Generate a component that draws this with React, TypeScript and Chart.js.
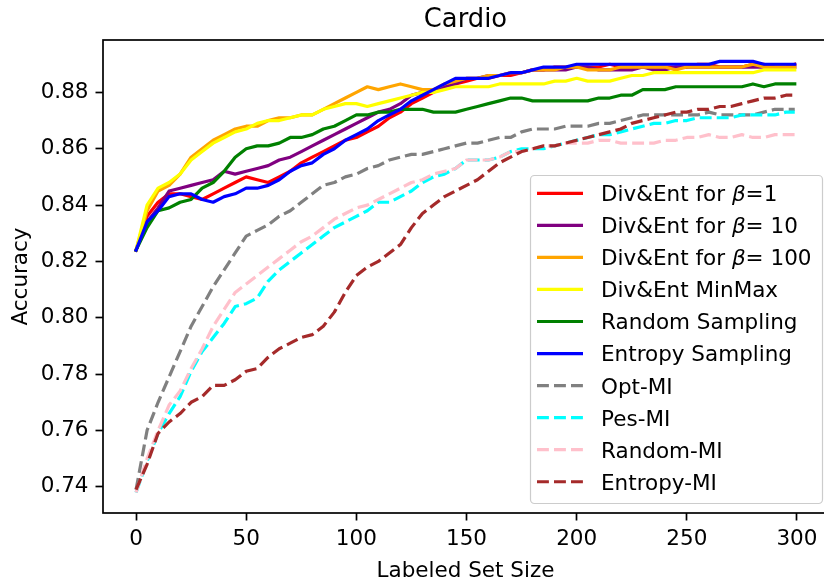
import React, { useEffect, useRef } from "react";
import { Chart, registerables } from "chart.js";

Chart.register(...registerables);

const TITLE = "Cardio";
const X_LABEL = "Labeled Set Size";
const Y_LABEL = "Accuracy";

const X_VALUES = [
  0, 5, 10, 15, 20, 25, 30, 35, 40, 45,
  50, 55, 60, 65, 70, 75, 80, 85, 90, 95,
  100, 105, 110, 115, 120, 125, 130, 135, 140, 145,
  150, 155, 160, 165, 170, 175, 180, 185, 190, 195,
  200, 205, 210, 215, 220, 225, 230, 235, 240, 245,
  250, 255, 260, 265, 270, 275, 280, 285, 290, 295,
  299,
];

const DIV_ENT_B1 = [
  0.824, 0.836, 0.841, 0.844, 0.844, 0.843, 0.842, 0.844, 0.846, 0.848,
  0.850, 0.849, 0.848, 0.850, 0.852, 0.855, 0.857, 0.859, 0.861, 0.863,
  0.864, 0.866, 0.868, 0.871, 0.873, 0.876, 0.878, 0.880, 0.882, 0.883,
  0.884, 0.885, 0.885, 0.886, 0.886, 0.887, 0.888, 0.888, 0.889, 0.889,
  0.889, 0.889, 0.889, 0.890, 0.889, 0.889, 0.889, 0.889, 0.889, 0.889,
  0.889, 0.890, 0.890, 0.889, 0.889, 0.889, 0.890, 0.890, 0.889, 0.889,
  0.890,
];

const DIV_ENT_B10 = [
  0.824, 0.834, 0.839, 0.845, 0.846, 0.847, 0.848, 0.849, 0.852, 0.851,
  0.852, 0.853, 0.854, 0.856, 0.857, 0.859, 0.861, 0.863, 0.865, 0.867,
  0.869, 0.871, 0.873, 0.874, 0.876, 0.879, 0.880, 0.881, 0.882, 0.883,
  0.885, 0.885, 0.886, 0.886, 0.887, 0.887, 0.888, 0.888, 0.888, 0.888,
  0.889, 0.889, 0.888, 0.888, 0.888, 0.888, 0.889, 0.888, 0.888, 0.889,
  0.889, 0.889, 0.889, 0.889, 0.889, 0.889, 0.889, 0.889, 0.889, 0.889,
  0.889,
];

const DIV_ENT_B100 = [
  0.824, 0.838, 0.845, 0.847, 0.851, 0.857, 0.860, 0.863, 0.865, 0.867,
  0.868, 0.868, 0.870, 0.871, 0.871, 0.872, 0.872, 0.874, 0.876, 0.878,
  0.880, 0.882, 0.881, 0.882, 0.883, 0.882, 0.881, 0.881, 0.883, 0.884,
  0.885, 0.885, 0.886, 0.886, 0.887, 0.887, 0.888, 0.888, 0.888, 0.889,
  0.889, 0.888, 0.888, 0.888, 0.889, 0.889, 0.889, 0.889, 0.889, 0.888,
  0.889, 0.889, 0.889, 0.889, 0.889, 0.889, 0.890, 0.889, 0.889, 0.889,
  0.889,
];

const DIV_ENT_MINMAX = [
  0.824, 0.840, 0.846, 0.848, 0.851, 0.856, 0.859, 0.862, 0.864, 0.866,
  0.867, 0.869, 0.870, 0.870, 0.871, 0.872, 0.872, 0.874, 0.875, 0.876,
  0.876, 0.875, 0.876, 0.877, 0.878, 0.879, 0.880, 0.880, 0.881, 0.882,
  0.882, 0.882, 0.882, 0.883, 0.883, 0.883, 0.883, 0.883, 0.884, 0.884,
  0.885, 0.884, 0.884, 0.884, 0.885, 0.886, 0.886, 0.887, 0.887, 0.887,
  0.887, 0.887, 0.887, 0.887, 0.887, 0.887, 0.887, 0.888, 0.888, 0.888,
  0.888,
];

const RANDOM_SAMPLING = [
  0.824, 0.832, 0.838, 0.839, 0.841, 0.842, 0.846, 0.848, 0.852, 0.857,
  0.860, 0.861, 0.861, 0.862, 0.864, 0.864, 0.865, 0.867, 0.868, 0.870,
  0.872, 0.872, 0.873, 0.873, 0.874, 0.874, 0.874, 0.873, 0.873, 0.873,
  0.874, 0.875, 0.876, 0.877, 0.878, 0.878, 0.877, 0.877, 0.877, 0.877,
  0.877, 0.877, 0.878, 0.878, 0.879, 0.879, 0.881, 0.881, 0.881, 0.882,
  0.882, 0.882, 0.882, 0.882, 0.882, 0.882, 0.883, 0.882, 0.883, 0.883,
  0.883,
];

const ENTROPY_SAMPLING = [
  0.824, 0.834, 0.838, 0.843, 0.844, 0.844, 0.842, 0.841, 0.843, 0.844,
  0.846, 0.846, 0.847, 0.849, 0.852, 0.854, 0.855, 0.858, 0.860, 0.863,
  0.865, 0.867, 0.870, 0.872, 0.874, 0.877, 0.879, 0.881, 0.883, 0.885,
  0.885, 0.885, 0.885, 0.886, 0.887, 0.887, 0.888, 0.889, 0.889, 0.889,
  0.890, 0.890, 0.890, 0.890, 0.890, 0.890, 0.890, 0.890, 0.890, 0.890,
  0.890, 0.890, 0.890, 0.891, 0.891, 0.891, 0.891, 0.890, 0.890, 0.890,
  0.890,
];

const OPT_MI = [
  0.739, 0.760, 0.770, 0.779, 0.788, 0.797, 0.804, 0.811, 0.817, 0.823,
  0.829, 0.831, 0.833, 0.836, 0.838, 0.841, 0.844, 0.847, 0.848, 0.850,
  0.851, 0.853, 0.854, 0.856, 0.857, 0.858, 0.858, 0.859, 0.860, 0.861,
  0.862, 0.862, 0.863, 0.864, 0.864, 0.866, 0.867, 0.867, 0.867, 0.868,
  0.868, 0.868, 0.869, 0.869, 0.870, 0.871, 0.872, 0.872, 0.872, 0.872,
  0.872, 0.872, 0.873, 0.872, 0.872, 0.872, 0.872, 0.873, 0.874, 0.874,
  0.874,
];

const PES_MI = [
  0.738, 0.749, 0.759, 0.766, 0.772, 0.781, 0.788, 0.793, 0.798, 0.804,
  0.805, 0.807, 0.813, 0.817, 0.820, 0.823, 0.826, 0.829, 0.832, 0.834,
  0.836, 0.838, 0.841, 0.841, 0.843, 0.845, 0.848, 0.850, 0.851, 0.853,
  0.856, 0.856, 0.856, 0.857, 0.859, 0.860, 0.860, 0.860, 0.861, 0.862,
  0.863, 0.864, 0.865, 0.865, 0.866, 0.867, 0.868, 0.869, 0.869, 0.870,
  0.870, 0.871, 0.871, 0.871, 0.871, 0.872, 0.872, 0.872, 0.872, 0.873,
  0.873,
];

const RANDOM_MI = [
  0.738, 0.750, 0.760, 0.769, 0.774, 0.782, 0.789, 0.797, 0.803, 0.809,
  0.812, 0.815, 0.818, 0.821, 0.824, 0.827, 0.829, 0.832, 0.835, 0.837,
  0.839, 0.840, 0.842, 0.844, 0.846, 0.848, 0.849, 0.851, 0.852, 0.853,
  0.856, 0.856, 0.856, 0.857, 0.859, 0.859, 0.860, 0.861, 0.861, 0.862,
  0.862, 0.862, 0.863, 0.863, 0.862, 0.862, 0.862, 0.862, 0.863, 0.863,
  0.864, 0.864, 0.865, 0.864, 0.864, 0.865, 0.864, 0.864, 0.865, 0.865,
  0.865,
];

const ENTROPY_MI = [
  0.739, 0.748, 0.759, 0.763, 0.766, 0.770, 0.772, 0.776, 0.776, 0.778,
  0.781, 0.782, 0.786, 0.789, 0.791, 0.793, 0.794, 0.797, 0.802, 0.809,
  0.815, 0.818, 0.820, 0.823, 0.826, 0.832, 0.837, 0.840, 0.843, 0.845,
  0.847, 0.849, 0.852, 0.855, 0.857, 0.859, 0.860, 0.861, 0.861, 0.862,
  0.863, 0.864, 0.865, 0.866, 0.867, 0.869, 0.870, 0.871, 0.872, 0.873,
  0.873, 0.874, 0.874, 0.875, 0.875, 0.876, 0.877, 0.878, 0.878, 0.879,
  0.879,
];

const SERIES_LABELS = [
  "Div&Ent for β=1",
  "Div&Ent for β= 10",
  "Div&Ent for β= 100",
  "Div&Ent MinMax",
  "Random Sampling",
  "Entropy Sampling",
  "Opt-MI",
  "Pes-MI",
  "Random-MI",
  "Entropy-MI",
];
const SERIES_VALUES = [
  DIV_ENT_B1, DIV_ENT_B10, DIV_ENT_B100, DIV_ENT_MINMAX, RANDOM_SAMPLING,
  ENTROPY_SAMPLING, OPT_MI, PES_MI, RANDOM_MI, ENTROPY_MI,
];
const SERIES_COLORS = [
  "#ff0000", "#800080", "#ffa500", "#ffff00", "#008000",
  "#0000ff", "#808080", "#00ffff", "#ffc0cb", "#a52a2a",
];
const SERIES_DASHED = [false, false, false, false, false, false, true, true, true, true];

const X_TICKS = [0, 50, 100, 150, 200, 250, 300];
const Y_TICKS = [0.74, 0.76, 0.78, 0.8, 0.82, 0.84, 0.86, 0.88];

const FONT = "'DejaVu Sans', sans-serif";
const CANVAS_W = 842;
const CANVAS_H = 582;
const LINE_W = 3.2;
const DASH = [11.9, 5.1];

function drawLabel(ctx: CanvasRenderingContext2D, label: string, x: number, y: number, size: number) {
  const idx = label.indexOf("β");
  ctx.textAlign = "left";
  ctx.textBaseline = "alphabetic";
  if (idx < 0) {
    ctx.font = `${size}px ${FONT}`;
    ctx.fillText(label, x, y);
    return;
  }
  const before = label.slice(0, idx);
  const after = label.slice(idx + 1);
  ctx.font = `${size}px ${FONT}`;
  ctx.fillText(before, x, y);
  let cx = x + ctx.measureText(before).width;
  ctx.font = `italic ${size}px ${FONT}`;
  ctx.fillText("β", cx, y);
  cx += ctx.measureText("β").width;
  ctx.font = `${size}px ${FONT}`;
  ctx.fillText(after, cx, y);
}

const overlayPlugin = {
  id: "overlay",
  afterDatasetsDraw(chart: any) {
    const ctx: CanvasRenderingContext2D = chart.ctx;
    const a = chart.chartArea;
    ctx.save();
    // spines
    ctx.strokeStyle = "#000";
    ctx.lineWidth = 1.7;
    ctx.strokeRect(a.left, a.top, a.right - a.left, a.bottom - a.top);

    ctx.fillStyle = "#000";
    // title
    ctx.font = `25.8px ${FONT}`;
    ctx.textAlign = "center";
    ctx.textBaseline = "alphabetic";
    const cxm = (a.left + 828) / 2;
    ctx.fillText(TITLE, cxm, a.top - 13);
    // x label
    ctx.font = `21.5px ${FONT}`;
    ctx.fillText(X_LABEL, cxm, a.bottom + 63.5);
    // y label
    ctx.save();
    ctx.translate(a.left - 76, (a.top + a.bottom) / 2);
    ctx.rotate(-Math.PI / 2);
    ctx.fillText(Y_LABEL, 0, 0);
    ctx.restore();

    // legend
    const lx0 = 530, ly0 = 175, lx1 = 822, ly1 = 503;
    ctx.beginPath();
    if ((ctx as any).roundRect) {
      (ctx as any).roundRect(lx0 + 0.5, ly0 + 0.5, lx1 - lx0, ly1 - ly0, 4);
    } else {
      ctx.rect(lx0 + 0.5, ly0 + 0.5, lx1 - lx0, ly1 - ly0);
    }
    ctx.fillStyle = "rgba(255,255,255,0.8)";
    ctx.fill();
    ctx.strokeStyle = "#cccccc";
    ctx.lineWidth = 1.2;
    ctx.stroke();

    for (let i = 0; i < SERIES_LABELS.length; i++) {
      const y = 193.3 + i * 32.05;
      ctx.beginPath();
      ctx.strokeStyle = SERIES_COLORS[i];
      ctx.lineWidth = LINE_W;
      ctx.lineCap = "butt";
      ctx.setLineDash(SERIES_DASHED[i] ? DASH : []);
      ctx.moveTo(537, y);
      ctx.lineTo(583, y);
      ctx.stroke();
      ctx.setLineDash([]);
      ctx.fillStyle = "#000";
      drawLabel(ctx, SERIES_LABELS[i], 601, y + 7.9, 21.5);
    }
    ctx.restore();
  },
};

export default function App() {
  const canvasRef = useRef<HTMLCanvasElement | null>(null);

  useEffect(() => {
    const canvas = canvasRef.current;
    if (!canvas) return;
    Chart.defaults.font.family = FONT;
    Chart.defaults.color = "#000";

    const datasets = SERIES_LABELS.map((label, i) => ({
      label,
      data: X_VALUES.map((x, j) => ({ x, y: SERIES_VALUES[i][j] })),
      borderColor: SERIES_COLORS[i],
      backgroundColor: SERIES_COLORS[i],
      borderWidth: LINE_W,
      borderDash: SERIES_DASHED[i] ? DASH : [],
      borderCapStyle: SERIES_DASHED[i] ? "butt" : "square",
      borderJoinStyle: "round",
      pointRadius: 0,
      pointHoverRadius: 0,
      tension: 0,
      fill: false,
      order: -i,
    }));

    const chart = new Chart(canvas, {
      type: "line",
      data: { datasets } as any,
      options: {
        responsive: false,
        animation: false,
        devicePixelRatio: 1,
        events: [],
        layout: { padding: { left: 0, top: 40, right: CANVAS_W - 830, bottom: 0 } },
        plugins: {
          legend: { display: false },
          title: { display: false },
          tooltip: { enabled: false },
        },
        scales: {
          x: {
            type: "linear",
            min: -15,
            max: 315,
            afterFit: (s: any) => { s.height = 69; },
            afterBuildTicks: (s: any) => { s.ticks = X_TICKS.map((v) => ({ value: v })); },
            border: { display: false },
            grid: {
              display: true,
              drawOnChartArea: false,
              drawTicks: true,
              tickLength: 7.5,
              tickWidth: 1.7,
              tickColor: "#000",
            },
            ticks: {
              autoSkip: false,
              maxRotation: 0,
              padding: 6.5,
              color: "#000",
              font: { size: 21.5, family: FONT },
              callback: (v: any) => String(Math.round(Number(v))),
            },
          },
          y: {
            type: "linear",
            min: 0.7307,
            max: 0.8986,
            afterFit: (s: any) => { s.width = 103; },
            afterBuildTicks: (s: any) => { s.ticks = Y_TICKS.map((v) => ({ value: v })); },
            border: { display: false },
            grid: {
              display: true,
              drawOnChartArea: false,
              drawTicks: true,
              tickLength: 7.5,
              tickWidth: 1.7,
              tickColor: "#000",
            },
            ticks: {
              autoSkip: false,
              padding: 7,
              color: "#000",
              font: { size: 21.5, family: FONT },
              callback: (v: any) => Number(v).toFixed(2),
            },
          },
        },
      } as any,
      plugins: [overlayPlugin],
    });
    return () => chart.destroy();
  }, []);

  return (
    <div style={{ position: "fixed", left: 0, top: 0, width: 824, height: 582, overflow: "hidden", background: "#fff" }}>
      <canvas ref={canvasRef} width={CANVAS_W} height={CANVAS_H} style={{ display: "block", width: CANVAS_W, height: CANVAS_H }} />
    </div>
  );
}
